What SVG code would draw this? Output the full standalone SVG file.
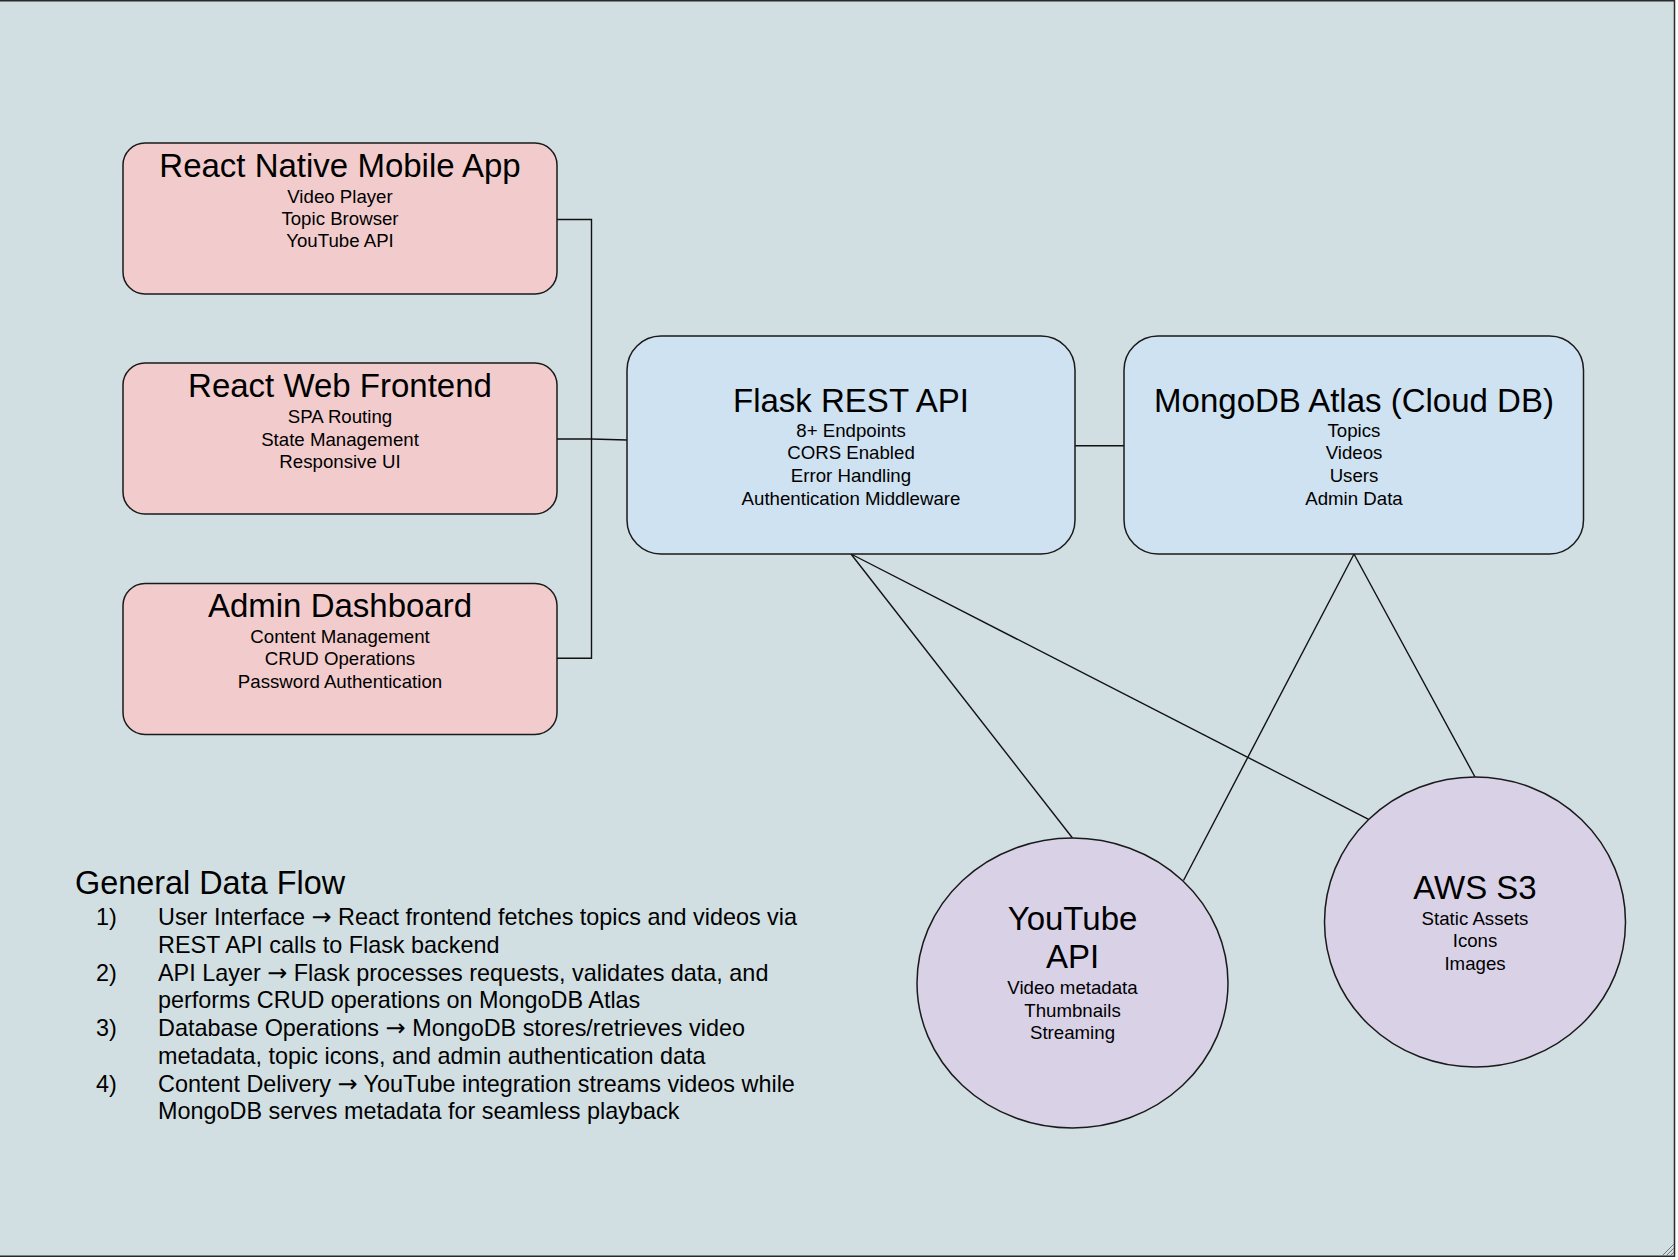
<svg xmlns="http://www.w3.org/2000/svg" width="1678" height="1260" viewBox="0 0 1678 1260">
<style>
text{font-family:"Liberation Sans",Arial,Helvetica,sans-serif;fill:#000}
.t{font-size:33px;text-anchor:middle}
.s{font-size:18.67px;text-anchor:middle}
.p{font-size:23.4px}
.h{font-size:32.4px}
.a{font-family:"DejaVu Sans",sans-serif;font-size:24px}
.client{fill:#f2cccc;stroke:#1a1a1a;stroke-width:1.5}
.server{fill:#cfe2f1;stroke:#1a1a1a;stroke-width:1.5}
.ext{fill:#d9d2e7;stroke:#1a1a1a;stroke-width:1.5}
.c{fill:none;stroke:#111;stroke-width:1.4}
</style>
<rect x="0" y="0" width="1678" height="1260" fill="#ffffff"/>
<rect x="-2" y="0.75" width="1676.5" height="1255.5" fill="#d1dfe3" stroke="#2a2a2a" stroke-width="1.5"/>
<g stroke="#777" stroke-width="1">
<line x1="1662" y1="1256" x2="1674" y2="1244"/>
<line x1="1666" y1="1256" x2="1674" y2="1248"/>
<line x1="1670" y1="1256" x2="1674" y2="1252"/>
</g>
<g id="connectors">
<polyline class="c" points="557,219.5 591.5,219.5 591.5,658.3 557,658.3"/>
<polyline class="c" points="557,439 591.5,439 627,440"/>
<line class="c" x1="1075" y1="445.7" x2="1124" y2="445.7"/>
<line class="c" x1="851" y1="554" x2="1072.5" y2="838"/>
<line class="c" x1="851" y1="554" x2="1368.6" y2="819.3"/>
<line class="c" x1="1354" y1="554" x2="1183.5" y2="880.5"/>
<line class="c" x1="1354" y1="554" x2="1475" y2="777"/>
</g>
<g id="react-native">
<rect class="client" x="123" y="143" width="434" height="151" rx="22"/>
<text class="t" x="340" y="177">React Native Mobile App</text>
<text class="s" x="340" y="203">Video Player</text>
<text class="s" x="340" y="225">Topic Browser</text>
<text class="s" x="340" y="247">YouTube API</text>
</g>
<g id="react-web">
<rect class="client" x="123" y="363" width="434" height="151" rx="22"/>
<text class="t" x="340" y="397.3">React Web Frontend</text>
<text class="s" x="340" y="423.3">SPA Routing</text>
<text class="s" x="340" y="445.5">State Management</text>
<text class="s" x="340" y="467.7">Responsive UI</text>
</g>
<g id="admin">
<rect class="client" x="123" y="583.5" width="434" height="151" rx="22"/>
<text class="t" x="340" y="617">Admin Dashboard</text>
<text class="s" x="340" y="643">Content Management</text>
<text class="s" x="340" y="665">CRUD Operations</text>
<text class="s" x="340" y="687.5">Password Authentication</text>
</g>
<g id="flask">
<rect class="server" x="627" y="336" width="448" height="218" rx="34"/>
<text class="t" x="851" y="411.7">Flask REST API</text>
<text class="s" x="851" y="436.7">8+ Endpoints</text>
<text class="s" x="851" y="459.3">CORS Enabled</text>
<text class="s" x="851" y="482">Error Handling</text>
<text class="s" x="851" y="504.7">Authentication Middleware</text>
</g>
<g id="mongodb">
<rect class="server" x="1124" y="336" width="459.5" height="218" rx="34"/>
<text class="t" x="1354" y="411.7">MongoDB Atlas (Cloud DB)</text>
<text class="s" x="1354" y="436.7">Topics</text>
<text class="s" x="1354" y="459.3">Videos</text>
<text class="s" x="1354" y="482">Users</text>
<text class="s" x="1354" y="504.7">Admin Data</text>
</g>
<g id="youtube">
<ellipse class="ext" cx="1072.5" cy="983" rx="155.5" ry="145"/>
<text class="t" x="1072.5" y="930">YouTube</text>
<text class="t" x="1072.5" y="968.3">API</text>
<text class="s" x="1072.5" y="994.3">Video metadata</text>
<text class="s" x="1072.5" y="1016.7">Thumbnails</text>
<text class="s" x="1072.5" y="1039">Streaming</text>
</g>
<g id="aws-s3">
<ellipse class="ext" cx="1475" cy="922" rx="150.5" ry="145"/>
<text class="t" x="1475" y="899.3">AWS S3</text>
<text class="s" x="1475" y="925">Static Assets</text>
<text class="s" x="1475" y="947.3">Icons</text>
<text class="s" x="1475" y="969.7">Images</text>
</g>
<g id="data-flow">
<text class="h" x="75" y="894.3">General Data Flow</text>
<text class="p" x="96" y="925">1)</text>
<text class="p" x="158" y="925">User Interface <tspan class="a">→</tspan> React frontend fetches topics and videos via</text>
<text class="p" x="158" y="952.7">REST API calls to Flask backend</text>
<text class="p" x="96" y="980.5">2)</text>
<text class="p" x="158" y="980.5">API Layer <tspan class="a">→</tspan> Flask processes requests, validates data, and</text>
<text class="p" x="158" y="1008.3">performs CRUD operations on MongoDB Atlas</text>
<text class="p" x="96" y="1036.3">3)</text>
<text class="p" x="158" y="1036.3">Database Operations <tspan class="a">→</tspan> MongoDB stores/retrieves video</text>
<text class="p" x="158" y="1064">metadata, topic icons, and admin authentication data</text>
<text class="p" x="96" y="1091.7">4)</text>
<text class="p" x="158" y="1091.7">Content Delivery <tspan class="a">→</tspan> YouTube integration streams videos while</text>
<text class="p" x="158" y="1119.3">MongoDB serves metadata for seamless playback</text>
</g>
</svg>
